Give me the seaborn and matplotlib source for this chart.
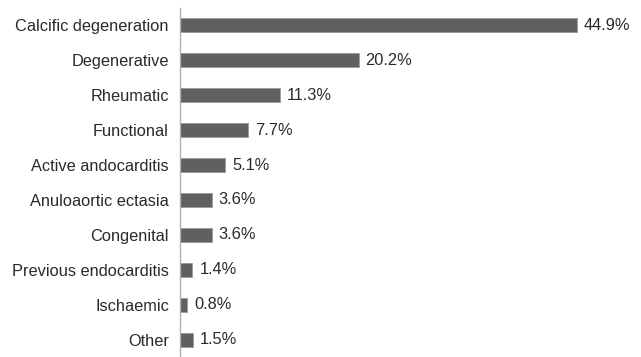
import matplotlib
matplotlib.use("Agg")
import matplotlib.pyplot as plt
import seaborn as sns
import pandas as pd

categories = ["Calcific degeneration", "Degenerative", "Rheumatic", "Functional",
              "Active andocarditis", "Anuloaortic ectasia", "Congenital",
              "Previous endocarditis", "Ischaemic", "Other"]
values = [44.9, 20.2, 11.3, 7.7, 5.1, 3.6, 3.6, 1.4, 0.8, 1.5]
labels = ["44.9%", "20.2%", "11.3%", "7.7%", "5.1%", "3.6%", "3.6%", "1.4%", "0.8%", "1.5%"]

df = pd.DataFrame({"cat": categories, "val": values})

sns.set_style("white")
plt.rcParams["font.family"] = ["Liberation Sans", "DejaVu Sans"]

fig = plt.figure(figsize=(6.41, 3.57), dpi=100)
ax = fig.add_axes([180/641, 0.0, 450/641, 349/357])
sns.barplot(data=df, x="val", y="cat", orient="h", color="#606060", saturation=1,
            width=0.4, edgecolor="#9a9a9a", linewidth=0.6, ax=ax)
ax.set_xlim(0, 450/8.84)
ax.set_ylim(9.5, -0.5)
ax.set_xlabel("")
ax.set_ylabel("")
ax.set_xticks([])
for s in ["top", "right", "bottom"]:
    ax.spines[s].set_visible(False)
ax.spines["left"].set_color("#b0b0b0")
ax.spines["left"].set_linewidth(1.0)
ax.tick_params(axis="y", length=0, pad=8, labelsize=11.8, labelcolor="#2a2a2a")
for i, (v, t) in enumerate(zip(values, labels)):
    ax.annotate(t, (v, i), xytext=(5, 0), textcoords="offset points",
                va="center", ha="left", fontsize=11.8, color="#2a2a2a")

fig.savefig("out.png", dpi=100)
